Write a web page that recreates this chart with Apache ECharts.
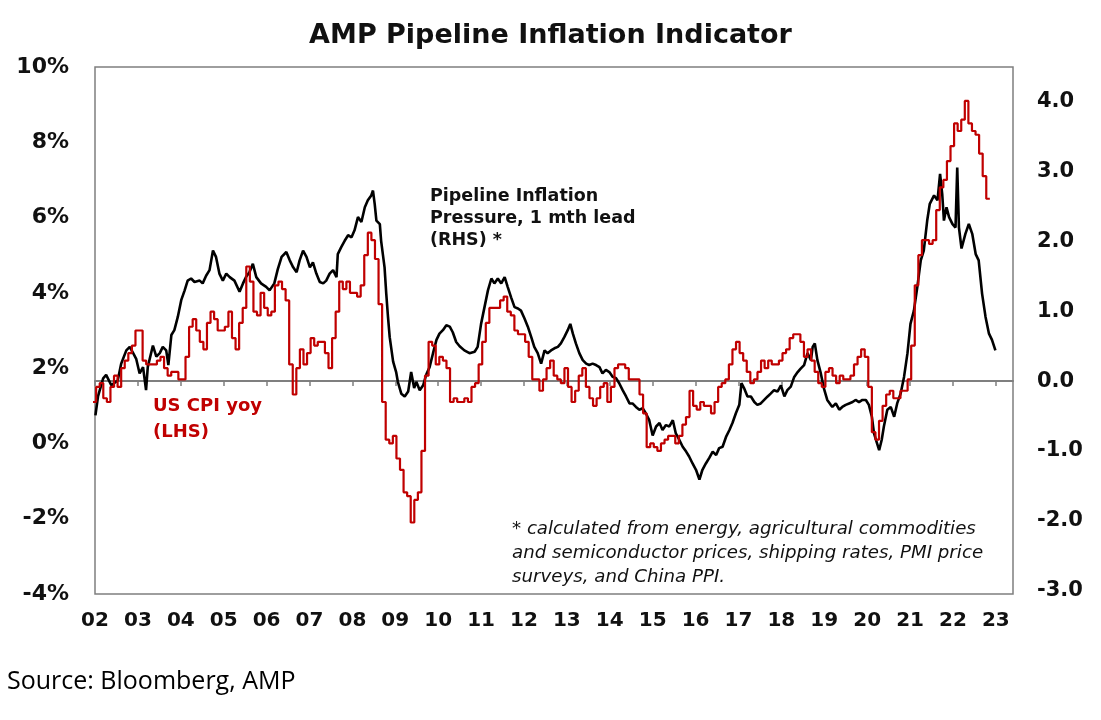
<!DOCTYPE html>
<html>
<head>
<meta charset="utf-8">
<script src="https://cdn.jsdelivr.net/npm/echarts@6/dist/echarts.min.js"></script>
<style>
html,body{margin:0;padding:0;background:#fff;}
#chart{width:1101px;height:720px;}
</style>
</head>
<body>
<div id="chart"></div>
<script>
// ---- Data ----
// US CPI yoy (%), monthly Jan 2002 .. Dec 2022 (LHS)
const cpiStartYear = 2002;
const usCpiYoy = [
  1.1,1.1,1.5,1.6,1.2,1.1,1.5,1.8,1.5,2.0,2.2,2.4,
  2.6,3.0,3.0,2.2,2.1,2.1,2.1,2.2,2.3,2.0,1.8,1.9,
  1.9,1.7,1.7,2.3,3.1,3.3,3.0,2.7,2.5,3.2,3.5,3.3,
  3.0,3.0,3.1,3.5,2.8,2.5,3.2,3.6,4.7,4.3,3.5,3.4,
  4.0,3.6,3.4,3.5,4.2,4.3,4.1,3.8,2.1,1.3,2.0,2.5,
  2.1,2.4,2.8,2.6,2.7,2.7,2.4,2.0,2.8,3.5,4.3,4.1,
  4.3,4.0,4.0,3.9,4.2,5.0,5.6,5.4,4.9,3.7,1.1,0.1,
  0.0,0.2,-0.4,-0.7,-1.3,-1.4,-2.1,-1.5,-1.3,-0.2,1.8,2.7,
  2.6,2.1,2.3,2.2,2.0,1.1,1.2,1.1,1.1,1.2,1.1,1.5,
  1.6,2.1,2.7,3.2,3.6,3.6,3.6,3.8,3.9,3.5,3.4,3.0,
  2.9,2.9,2.7,2.3,1.7,1.7,1.4,1.7,2.0,2.2,1.8,1.7,
  1.6,2.0,1.5,1.1,1.4,1.8,2.0,1.5,1.2,1.0,1.2,1.5,
  1.6,1.1,1.5,2.0,2.1,2.1,2.0,1.7,1.7,1.7,1.3,0.8,
  -0.1,0.0,-0.1,-0.2,0.0,0.1,0.2,0.2,0.0,0.2,0.5,0.7,
  1.4,1.0,0.9,1.1,1.0,1.0,0.8,1.1,1.5,1.6,1.7,2.1,
  2.5,2.7,2.4,2.2,1.9,1.6,1.7,1.9,2.2,2.0,2.2,2.1,
  2.1,2.2,2.4,2.5,2.8,2.9,2.9,2.7,2.3,2.5,2.2,1.9,
  1.6,1.5,1.9,2.0,1.8,1.6,1.8,1.7,1.7,1.8,2.1,2.3,
  2.5,2.3,1.5,0.3,0.1,0.6,1.0,1.3,1.4,1.2,1.2,1.4,
  1.4,1.7,2.6,4.2,5.0,5.4,5.4,5.3,5.4,6.2,6.8,7.0,
  7.5,7.9,8.5,8.3,8.6,9.1,8.5,8.3,8.2,7.7,7.1,6.5
];
// the CPI steps in the picture sit about 1.7 months ahead of calendar month starts
const cpiPlotOffsetYears = -0.14;

// Pipeline Inflation Pressure, 1 mth lead (RHS): dates (decimal years) and values
const pipelineDates = [
  2002.01,2002.07,2002.19,2002.26,2002.38,2002.53,2002.61,2002.73,2002.81,2002.89,2002.96,
  2003.04,2003.12,2003.19,2003.23,2003.35,2003.43,2003.51,2003.58,2003.66,2003.71,2003.78,2003.85,2003.93,
  2004.01,2004.09,2004.16,2004.24,2004.32,2004.44,2004.51,2004.59,2004.67,2004.75,2004.82,2004.90,2004.98,
  2005.06,2005.14,2005.25,2005.37,2005.45,2005.52,2005.60,2005.68,2005.76,2005.87,2005.99,
  2006.07,2006.18,2006.26,2006.35,2006.46,2006.54,2006.62,2006.70,2006.77,2006.85,2006.93,
  2007.01,2007.08,2007.16,2007.24,2007.32,2007.39,2007.47,2007.55,2007.63,2007.66,2007.74,2007.82,2007.90,2007.98,
  2008.05,2008.13,2008.21,2008.29,2008.36,2008.44,2008.48,2008.52,2008.56,2008.64,2008.67,2008.75,2008.79,2008.83,2008.87,2008.95,
  2009.02,2009.06,2009.14,2009.22,2009.30,2009.37,2009.44,2009.49,2009.57,2009.65,2009.72,2009.80,2009.88,2009.96,
  2010.03,2010.11,2010.19,2010.27,2010.34,2010.42,2010.50,2010.61,2010.73,2010.85,2010.92,
  2011.00,2011.08,2011.16,2011.24,2011.31,2011.39,2011.47,2011.55,2011.62,2011.70,2011.78,2011.86,2011.93,
  2012.01,2012.09,2012.17,2012.24,2012.32,2012.40,2012.48,2012.55,2012.63,2012.71,2012.79,2012.86,2012.94,
  2013.02,2013.08,2013.14,2013.21,2013.29,2013.37,2013.45,2013.52,2013.60,2013.68,2013.76,2013.83,2013.91,2013.99,
  2014.07,2014.15,2014.22,2014.30,2014.38,2014.46,2014.53,2014.61,2014.69,2014.77,2014.84,2014.92,
  2015.00,2015.08,2015.16,2015.23,2015.31,2015.39,2015.47,2015.54,2015.62,2015.70,2015.78,2015.85,2015.93,
  2016.01,2016.09,2016.16,2016.24,2016.32,2016.40,2016.48,2016.55,2016.63,2016.71,2016.79,2016.86,2016.94,
  2017.02,2017.07,2017.13,2017.21,2017.29,2017.37,2017.44,2017.52,2017.60,2017.68,2017.75,2017.83,2017.91,2017.99,
  2018.07,2018.14,2018.22,2018.30,2018.38,2018.45,2018.53,2018.61,2018.69,2018.73,2018.78,2018.84,2018.92,2018.99,
  2019.07,2019.15,2019.19,2019.27,2019.35,2019.42,2019.50,2019.58,2019.66,2019.73,2019.81,2019.89,2019.97,
  2020.04,2020.11,2020.16,2020.22,2020.28,2020.34,2020.39,2020.47,2020.55,2020.63,2020.70,2020.78,2020.86,2020.94,
  2021.01,2021.09,2021.17,2021.25,2021.32,2021.40,2021.46,2021.56,2021.64,2021.70,2021.75,2021.79,2021.85,2021.91,2021.99,
  2022.06,2022.10,2022.14,2022.20,2022.29,2022.37,2022.45,2022.53,2022.60,2022.68,2022.76,2022.84,2022.91,2022.99
];
const pipelineValues = [
  -0.49,-0.22,0.04,0.09,-0.06,0.01,0.25,0.44,0.49,0.40,0.32,
  0.11,0.20,-0.13,0.20,0.51,0.35,0.40,0.49,0.44,0.23,0.66,0.73,0.92,
  1.16,1.30,1.44,1.47,1.42,1.44,1.40,1.51,1.59,1.87,1.78,1.54,1.44,
  1.54,1.49,1.44,1.28,1.40,1.49,1.56,1.68,1.49,1.40,1.35,
  1.30,1.40,1.60,1.78,1.85,1.73,1.63,1.56,1.73,1.87,1.78,
  1.63,1.70,1.54,1.42,1.40,1.44,1.54,1.59,1.49,1.82,1.92,2.01,2.09,2.06,
  2.16,2.35,2.28,2.49,2.59,2.66,2.73,2.54,2.30,2.25,2.01,1.63,1.25,0.92,0.63,0.28,
  0.13,-0.01,-0.18,-0.22,-0.15,0.13,-0.10,-0.01,-0.13,-0.06,0.09,0.20,0.40,0.59,
  0.68,0.73,0.80,0.78,0.70,0.56,0.50,0.44,0.40,0.42,0.49,
  0.82,1.06,1.30,1.47,1.40,1.47,1.40,1.49,1.35,1.20,1.06,1.04,1.01,
  0.90,0.78,0.63,0.49,0.40,0.25,0.44,0.40,0.44,0.47,0.49,0.54,0.63,
  0.73,0.82,0.68,0.54,0.40,0.30,0.25,0.23,0.25,0.23,0.20,0.11,0.16,0.13,
  0.06,0.04,-0.03,-0.13,-0.22,-0.32,-0.32,-0.37,-0.41,-0.39,-0.46,-0.56,
  -0.78,-0.65,-0.60,-0.70,-0.63,-0.65,-0.56,-0.75,-0.84,-0.94,-1.01,-1.08,-1.18,
  -1.27,-1.41,-1.27,-1.18,-1.10,-1.01,-1.06,-0.96,-0.94,-0.80,-0.70,-0.60,-0.46,
  -0.34,-0.03,-0.10,-0.22,-0.22,-0.30,-0.34,-0.32,-0.27,-0.22,-0.18,-0.13,-0.15,-0.06,
  -0.22,-0.13,-0.08,0.06,0.13,0.18,0.23,0.40,0.30,0.49,0.54,0.30,0.11,-0.10,
  -0.27,-0.34,-0.37,-0.32,-0.41,-0.37,-0.34,-0.32,-0.30,-0.27,-0.30,-0.27,-0.27,
  -0.34,-0.51,-0.75,-0.87,-0.99,-0.84,-0.65,-0.41,-0.37,-0.51,-0.32,-0.18,0.06,0.40,
  0.82,1.01,1.35,1.73,1.87,2.30,2.54,2.66,2.59,2.97,2.68,2.30,2.49,2.35,2.25,
  2.20,3.06,2.20,1.90,2.11,2.25,2.11,1.82,1.73,1.25,0.92,0.68,0.59,0.44
];

// Axis ticks
const yearTicks = [];
for (let y = 2002; y <= 2023; y++) yearTicks.push(y);
const lhsMin = -4, lhsMax = 10, lhsStep = 2;
const rhsTicks = [-3, -2, -1, 0, 1, 2, 3, 4];
const rhsMin = -3.05, rhsMax = 4.5;
const xMin = 2002, xMax = 2023.4;

// ---- Build series data ----
const cpiData = usCpiYoy.map((v, i) => [cpiStartYear + i / 12 + cpiPlotOffsetYears, v]);
cpiData.push([cpiStartYear + usCpiYoy.length / 12 + cpiPlotOffsetYears, usCpiYoy[usCpiYoy.length - 1]]);
const pipelineData = pipelineDates.map((d, i) => [d, pipelineValues[i]]);

const labelFont = { fontFamily: 'DejaVu Sans', fontWeight: 'bold', color: '#111' };
const grey = '#7f7f7f';

const chart = echarts.init(document.getElementById('chart'), null, { renderer: 'canvas' });
chart.setOption({
  animation: false,
  backgroundColor: '#ffffff',
  title: {
    text: 'AMP Pipeline Inflation Indicator',
    left: 'center',
    top: 17,
    textStyle: { fontFamily: 'DejaVu Sans', fontWeight: 'bold', fontSize: 27, color: '#111' }
  },
  grid: {
    left: 95, right: 88, top: 67, bottom: 126,
    show: true, borderColor: grey, borderWidth: 1.5,
    containLabel: false, outerBoundsMode: 'none'
  },
  xAxis: [
    {
      type: 'value', min: xMin, max: xMax, position: 'bottom',
      axisLine: { show: false, onZero: false },
      axisTick: { show: false },
      splitLine: { show: false },
      axisLabel: {
        customValues: yearTicks,
        formatter: v => String(Math.round(v) % 100).padStart(2, '0'),
        margin: 17, fontSize: 20, ...labelFont
      }
    },
    {
      type: 'value', min: xMin, max: xMax, position: 'bottom',
      axisLine: { show: true, onZero: true, onZeroAxisIndex: 1, lineStyle: { color: grey, width: 2 } },
      axisTick: { show: true, customValues: yearTicks, inside: false, length: 5, lineStyle: { color: grey, width: 1.5 } },
      axisLabel: { show: false },
      splitLine: { show: false }
    }
  ],
  yAxis: [
    {
      type: 'value', position: 'left', min: lhsMin, max: lhsMax, interval: lhsStep,
      axisLine: { show: false, onZero: false },
      axisTick: { show: false },
      splitLine: { show: false },
      axisLabel: { formatter: '{value}%', margin: 26, fontSize: 22, ...labelFont }
    },
    {
      type: 'value', position: 'right', min: rhsMin, max: rhsMax,
      axisLine: { show: false, onZero: false },
      axisTick: { show: false },
      splitLine: { show: false },
      axisLabel: {
        customValues: rhsTicks,
        formatter: v => v.toFixed(1),
        align: 'left',
        margin: 24, fontSize: 21, ...labelFont
      }
    }
  ],
  series: [
    {
      name: 'Pipeline Inflation Pressure, 1 mth lead (RHS)',
      type: 'line', xAxisIndex: 0, yAxisIndex: 1,
      data: pipelineData, symbol: 'none', showSymbol: false,
      lineStyle: { color: '#000000', width: 2.6 }, z: 2
    },
    {
      name: 'US CPI yoy (LHS)',
      type: 'line', xAxisIndex: 0, yAxisIndex: 0, step: 'end',
      data: cpiData, symbol: 'none', showSymbol: false,
      lineStyle: { color: '#c00000', width: 2.2 }, z: 3
    }
  ],
  graphic: [
    {
      type: 'text', left: 430, top: 185,
      style: {
        text: 'Pipeline Inflation\nPressure, 1 mth lead\n(RHS) *',
        fill: '#111', fontFamily: 'DejaVu Sans', fontWeight: 'bold', fontSize: 17.5, lineHeight: 22
      }
    },
    {
      type: 'text', left: 153, top: 393,
      style: {
        text: 'US CPI yoy\n(LHS)',
        fill: '#c00000', fontFamily: 'DejaVu Sans', fontWeight: 'bold', fontSize: 18, lineHeight: 26
      }
    },
    {
      type: 'text', left: 512, top: 517,
      style: {
        text: '* calculated from energy, agricultural commodities\nand semiconductor prices, shipping rates, PMI price\nsurveys, and China PPI.',
        fill: '#111', fontFamily: 'DejaVu Sans', fontStyle: 'italic', fontSize: 18.2, lineHeight: 24
      }
    },
    {
      type: 'text', left: 7, top: 669,
      style: {
        text: 'Source: Bloomberg, AMP',
        fill: '#000', fontFamily: 'Open Sans', fontSize: 25
      }
    }
  ]
});
</script>
</body>
</html>
